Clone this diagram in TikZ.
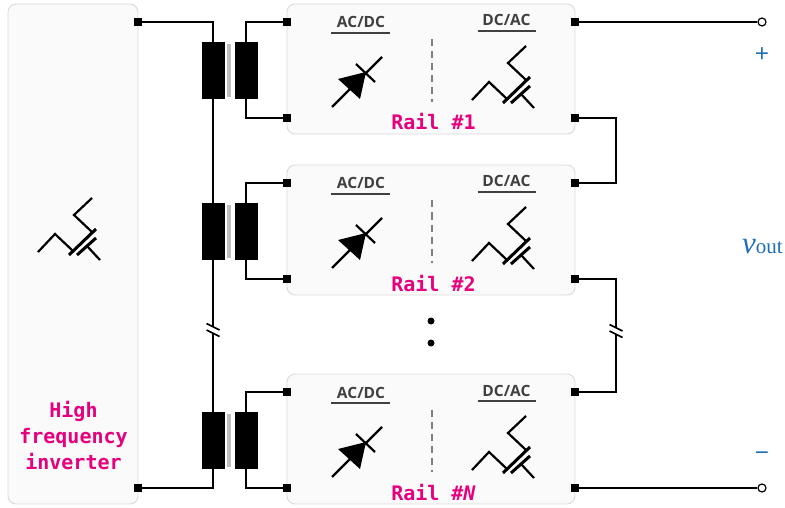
\documentclass[tikz,border=0pt]{standalone}
\usepackage{fontspec}
\usepackage{xcolor}
\usepackage{tikz}
\usetikzlibrary{positioning,calc}
\setmainfont{Liberation Serif}
\setsansfont{Open Sans}
\setmonofont{DejaVu Sans Mono}
\definecolor{RailPink}{HTML}{E6007E}
\definecolor{RailBlue}{HTML}{1F6FB5}
\definecolor{RailFill}{HTML}{FAFAFA}
\definecolor{RailEdge}{HTML}{DADADA}
\definecolor{RailText}{HTML}{404040}
\definecolor{RailGrey}{HTML}{808080}
\tikzset{
  panel/.style={draw=RailEdge,line width=0.9pt,fill=RailFill,rounded corners=8pt,inner sep=0pt},
  term/.style={draw=none,fill=black,minimum size=8pt,inner sep=0pt},
  port/.style={draw=black,line width=1.2pt,fill=white,circle,minimum size=8pt,inner sep=0pt},
  coil/.style={draw=none,fill=black,minimum width=23pt,minimum height=57pt,inner sep=0pt},
  core/.style={draw=none,fill=black!25,minimum width=4pt,minimum height=53pt,inner sep=0pt},
  wire/.style={line width=2.2pt,draw=black,line join=miter},
  symbol/.style={line width=2.2pt,draw=black},
  pinklabel/.style={font=\ttfamily\bfseries\fontsize{20}{26}\selectfont,text=RailPink,align=center,inner sep=0pt},
  convlabel/.style={font=\sffamily\bfseries\fontsize{15.5}{16}\selectfont,text=RailText,anchor=base,inner sep=0pt},
  convline/.style={line width=1.2pt,draw=RailText},
  splitter/.style={line width=1.2pt,draw=RailGrey,dash pattern=on 7pt off 5pt},
  bluelabel/.style={text=RailBlue,inner sep=0pt},
  mosfet/.pic={
    \draw[symbol] (0,0)--(17,-18)--(35,-1);
    \draw[symbol,line width=3pt] (31,3)--(58,-23);
    \draw[symbol,line width=3pt] (39,3)--(58,-14);
    \draw[symbol] (54,-54)--(36,-37)--(54,-20);
    \draw[symbol] (49,-6)--(62,8);
  },
  diode/.pic={
    \draw[symbol] (0,0)--(50,-50);
    \fill (6,-28)--(28,-8)--(34,-35)--cycle;
    \draw[symbol] (24,-43)--(43,-25);
  },
  cut/.pic={
    \fill[white] (-3,-3) rectangle (3,3);
    \draw[line width=1.6pt] (-6.5,-6.5)--(6.5,0);
    \draw[line width=1.6pt] (-6.5,0)--(6.5,6.5);
  }
}
\begin{document}
\begin{tikzpicture}[x=1pt,y=-1pt]
  \useasboundingbox (0,0) rectangle (785,508);
  \node[panel,minimum width=130pt,minimum height=500pt] (inv) at (73,254) {};
  \pic at (38,252) {mosfet};
  \node[pinklabel] (invtext) at (73.5,436) {High\\frequency\\inverter};
  \foreach \n/\y/\name in {1/0/Rail \#1,2/161/Rail \#2,3/370/Rail \#\textit{N}}{
    \node[panel,minimum width=288pt,minimum height=130pt] (rail\n) at (431,69+\y) {};
    \node[convlabel] (ac\n) at (361,28+\y) {AC/DC};
    \node[convlabel] (dc\n) at (506.5,26+\y) {DC/AC};
    \draw[convline] (331,33+\y)--(390,33+\y);
    \draw[convline] (477.5,31+\y)--(536,31+\y);
    \draw[splitter] (432,39.5+\y)--(432,102+\y);
    \pic at (332,107+\y) {diode};
    \pic at (472,100+\y) {mosfet};
    \node[pinklabel,anchor=base] (name\n) at (433.5,130+\y) {\name};
    % transformer
    \node[coil] (pri\n) at (213,70.5+\y) {};
    \node[coil] (sec\n) at (246,70.5+\y) {};
    \node[core] (core\n) at (229,70.5+\y) {};
    \node[term] (la\n) at (287,22+\y) {};
    \node[term] (lb\n) at (287,118+\y) {};
    \node[term] (ra\n) at (575,22+\y) {};
    \node[term] (rb\n) at (575,118+\y) {};
    \draw[wire] (sec\n.north) |- (la\n);
    \draw[wire] (sec\n.south) |- (lb\n);
  }
  \node[term] (inva) at (138,22) {};
  \node[term] (invb) at (138,488) {};
  \node[port] (out1) at (762,22) {};
  \node[port] (out2) at (762,488) {};
  \draw[wire] (inva) -| (pri1.north);
  \draw[wire] (pri1)--(pri2);
  \draw[wire] (pri2)--(pri3);
  \draw[wire] (invb) -| (pri3.south);
  \draw[wire] (ra1)--(out1);
  \draw[wire] (rb3)--(out2);
  \coordinate (bus1) at (616,118);
  \coordinate (bus2) at (616,279);
  \draw[wire] (rb1)--(bus1)|-(ra2);
  \draw[wire] (rb2)--(bus2)|-(ra3);
  \pic at (213,330) {cut};
  \pic at (616,331) {cut};
  \node[coil] at (pri1) {};
  \node[coil] at (pri2) {};
  \node[coil] at (pri3) {};
  \fill (431,321) circle (3.5);
  \fill (431,343) circle (3.5);
  \node[bluelabel,font=\sffamily\fontsize{25}{25}\selectfont] (plus) at (762,55) {+};
  \node[bluelabel,font=\sffamily\fontsize{25}{25}\selectfont] (minus) at (762,457) {−};
  \node[bluelabel,anchor=base west] (vout) at (742,253) {\fontsize{31}{31}\selectfont\textit{v}\fontsize{21}{21}\selectfont out};
\end{tikzpicture}
\end{document}
